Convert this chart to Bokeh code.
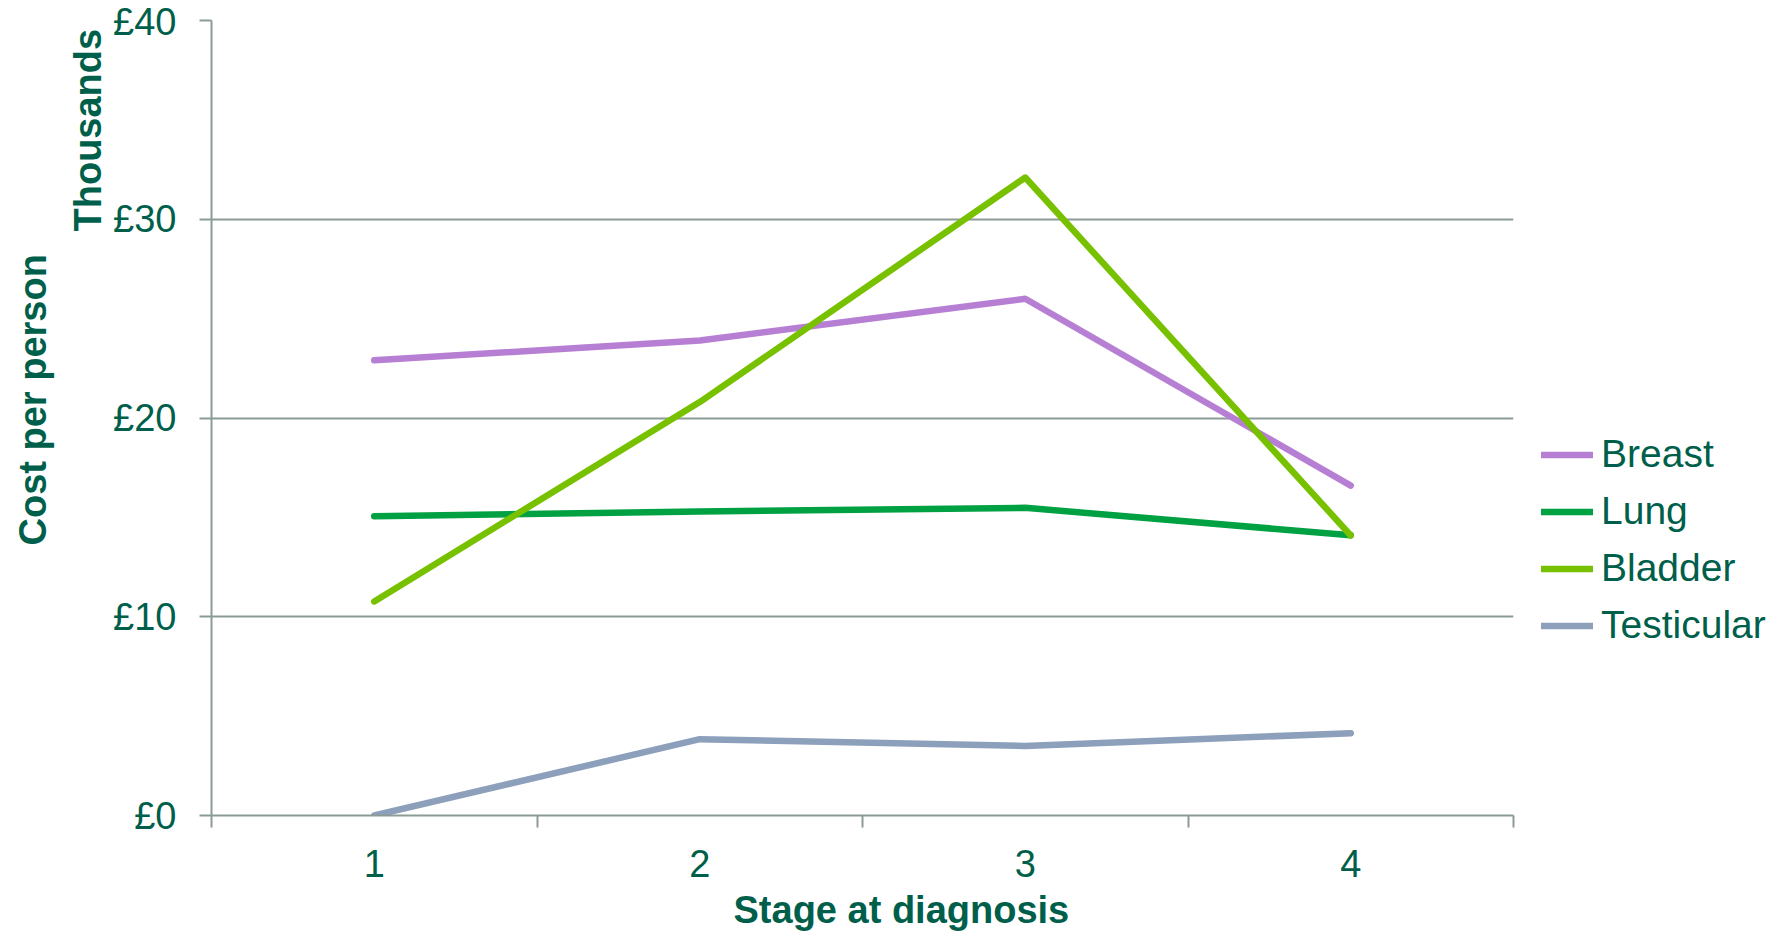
from bokeh.plotting import figure
from bokeh.models import Range1d, FixedTicker, Legend, LegendItem, Title
from bokeh.layouts import row
from bokeh.embed import file_html
from bokeh.resources import INLINE

# ---- data ----
stages = [1, 2, 3, 4]
stage_labels = ["1", "2", "3", "4"]
breast = [22.9, 23.9, 26.0, 16.6]
lung = [15.06, 15.3, 15.48, 14.1]
bladder = [10.77, 20.8, 32.1, 14.09]
testicular = [0.0, 3.84, 3.5, 4.14]
series_names = ["Breast", "Lung", "Bladder", "Testicular"]
y_ticks = [0, 10, 20, 30, 40]
y_tick_labels = ["£0", "£10", "£20", "£30", "£40"]

# ---- styles ----
TEXT = "#005F4B"
GRID = "#8B9B95"
COLORS = ["#B77FD4", "#00A142", "#78C100", "#8C9FBB"]
FONT = "Liberation Sans"

H = 938          # bottom few px fall below the 931px window, as in the reference
MAIN_W = 1523
LEG_W = 262

p = figure(width=MAIN_W, height=H, output_backend="svg", toolbar_location=None,
           x_range=Range1d(0.5, 4.5), y_range=Range1d(0, 40),
           min_border_left=211, min_border_right=10,
           min_border_top=20, min_border_bottom=123)
p.outline_line_color = None
p.background_fill_color = "white"
p.border_fill_color = "white"

# grid
p.xgrid.visible = False
p.ygrid.ticker = FixedTicker(ticks=y_ticks)
p.ygrid.grid_line_color = GRID
p.ygrid.grid_line_width = 2

# y axis
ya = p.yaxis[0]
ya.ticker = FixedTicker(ticks=y_ticks)
ya.major_label_overrides = {t: l for t, l in zip(y_ticks, y_tick_labels)}
ya.axis_line_color = GRID
ya.axis_line_width = 2
ya.major_tick_out = 12
ya.major_tick_in = 0
ya.major_tick_line_color = GRID
ya.major_tick_line_width = 2
ya.minor_tick_line_color = None
ya.major_label_text_font = FONT
ya.major_label_text_font_size = "38px"
ya.major_label_text_color = TEXT
ya.major_label_standoff = 23

# x axis
xa = p.xaxis[0]
xa.ticker = FixedTicker(ticks=stages, minor_ticks=[0.5, 1.5, 2.5, 3.5, 4.5])
xa.major_label_overrides = {s: l for s, l in zip(stages, stage_labels)}
xa.axis_line_color = GRID
xa.axis_line_width = 2
xa.major_tick_line_color = None
xa.major_tick_out = 0
xa.major_tick_in = 0
xa.minor_tick_out = 12
xa.minor_tick_in = 0
xa.minor_tick_line_color = GRID
xa.minor_tick_line_width = 2
xa.major_label_text_font = FONT
xa.major_label_text_font_size = "38px"
xa.major_label_text_color = TEXT
xa.major_label_standoff = 22

# lines
for name, vals, col in zip(series_names, [breast, lung, bladder, testicular], COLORS):
    p.line(stages, vals, line_color=col, line_width=6.5,
           line_cap="round", line_join="round")

# axis titles
def make_title(text, offset, standoff):
    return Title(text=text, align="left", offset=offset, standoff=standoff,
                 text_font=FONT, text_font_style="bold",
                 text_font_size="38px", text_color=TEXT)

p.add_layout(make_title("Stage at diagnosis", 522, 14), "below")
p.add_layout(make_title("Thousands", 584, 4), "left")
p.add_layout(make_title("Cost per person", 270, 17), "left")

# legend panel (separate figure to the right; its lines lie outside its view)
lf = figure(width=LEG_W, height=H, output_backend="svg", toolbar_location=None,
            x_range=Range1d(10, 11), y_range=Range1d(0, 40), min_border=0)
lf.axis.visible = False
lf.grid.visible = False
lf.outline_line_color = None
items = []
for name, vals, col in zip(series_names, [breast, lung, bladder, testicular], COLORS):
    r = lf.line(stages, vals, line_color=col, line_width=6.5, line_cap="round")
    items.append(LegendItem(label=name, renderers=[r]))

legend = Legend(items=items, location=(18, 161.5), orientation="vertical",
                padding=0, spacing=0, margin=0, label_height=57, glyph_height=57,
                glyph_width=52, label_standoff=8,
                label_text_font=FONT, label_text_font_size="39px",
                label_text_color=TEXT, border_line_color=None,
                background_fill_alpha=0)
lf.add_layout(legend, "center")

layout = row(p, lf, spacing=0)
open("out.html", "w").write(file_html(layout, INLINE))
